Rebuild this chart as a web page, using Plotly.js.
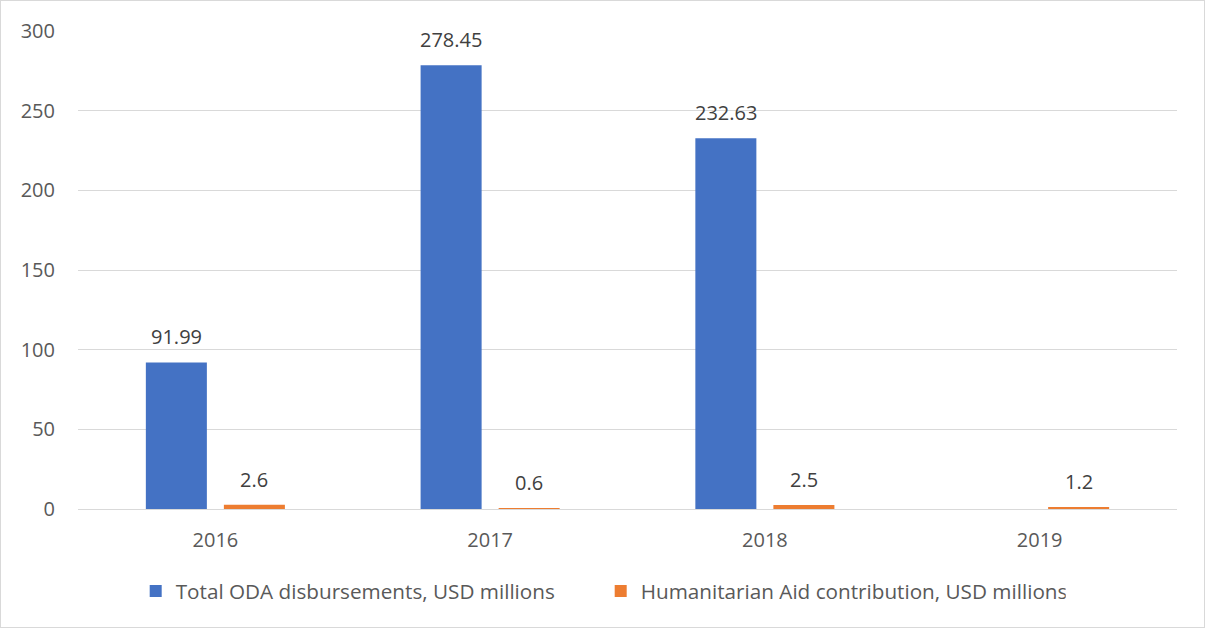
<!DOCTYPE html>
<html>
<head>
<meta charset="utf-8">
<script src="https://cdn.plot.ly/plotly-3.0.1.min.js"></script>
<style>
html,body{margin:0;padding:0;background:#fff;}
#chart{width:1203px;height:626px;border:1px solid #d9d9d9;}
</style>
</head>
<body>
<div id="chart"></div>
<script>
const years = ['2016', '2017', '2018', '2019'];
const odaValues = [91.99, 278.45, 232.63, null];
const humanitarianValues = [2.6, 0.6, 2.5, 1.2];
const seriesNames = ['Total ODA disbursements, USD millions', 'Humanitarian Aid contribution, USD millions'];
const yTicks = [0, 50, 100, 150, 200, 250, 300];

const fontFam = '"Open Sans", "Liberation Sans", sans-serif';
const textColor = '#595959';
const labelColor = '#404040';
const fs = 20;

const traces = [
  {type: 'bar', name: seriesNames[0], x: years, y: odaValues, marker: {color: '#4472C4'}},
  {type: 'bar', name: seriesNames[1], x: years, y: humanitarianValues, marker: {color: '#ED7D31'}}
];

// value labels placed above each bar through the axis scales (category index positions)
const annotations = [];
[[odaValues, -39], [humanitarianValues, 39]].forEach(([vals, dx]) => {
  vals.forEach((v, i) => {
    if (v === null) return;
    annotations.push({
      x: i, y: v, xref: 'x', yref: 'y', text: String(v),
      showarrow: false, xanchor: 'center', yanchor: 'bottom',
      xshift: dx, yshift: 10,
      font: {family: fontFam, size: fs, color: labelColor}
    });
  });
});

const layout = {
  width: 1203, height: 626,
  margin: {l: 77, r: 27, t: 30, b: 118},
  paper_bgcolor: '#fff', plot_bgcolor: '#fff',
  barmode: 'group', bargap: 0.432, bargroupgap: 0.218,
  font: {family: fontFam, size: fs, color: textColor},
  xaxis: {
    type: 'category', categoryarray: years, categoryorder: 'array',
    range: [-0.5, years.length - 0.5],
    showgrid: false, zeroline: false,
    showline: true, linecolor: '#d9d9d9', linewidth: 1,
    ticks: '', tickfont: {family: fontFam, size: fs, color: textColor},
    ticklabelstandoff: 13
  },
  yaxis: {
    range: [0, 300], tickvals: yTicks, ticktext: yTicks.map(String),
    showgrid: true, gridcolor: '#d9d9d9', gridwidth: 1,
    zeroline: true, zerolinecolor: '#d9d9d9', showline: false,
    ticks: '', tickfont: {family: fontFam, size: fs, color: textColor},
    ticklabelstandoff: 22
  },
  annotations: annotations,
  showlegend: true,
  legend: {
    orientation: 'h', x: 0.0525, xanchor: 'left', y: -0.13, yanchor: 'top',
    font: {family: fontFam, size: 20.7, color: textColor},
    itemwidth: 30, entrywidth: 420, entrywidthmode: 'pixels'
  }
};

Plotly.newPlot('chart', traces, layout, {displayModeBar: false, staticPlot: true});
</script>
</body>
</html>
